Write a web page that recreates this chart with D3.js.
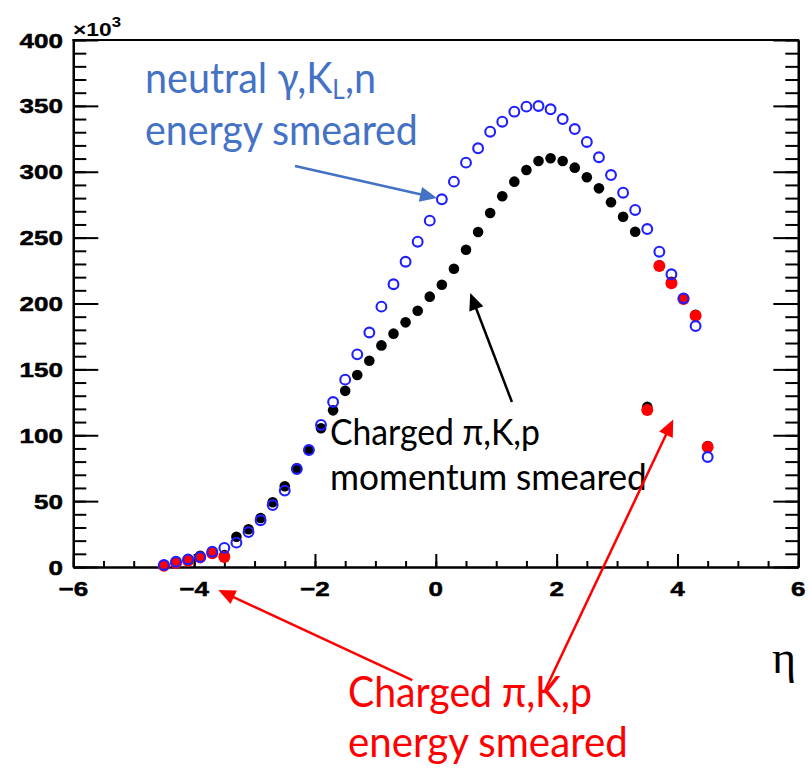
<!DOCTYPE html>
<html>
<head>
<meta charset="utf-8">
<script src="https://cdn.jsdelivr.net/npm/d3@7/dist/d3.min.js"></script>
<style>
  html, body { margin: 0; padding: 0; background: #fff; }
  svg { display: block; }
</style>
</head>
<body>
<svg id="chart" width="808" height="769"></svg>
<script>
// Pseudorapidity bin centres (bin width 0.2)
const etaCentres = [-4.5,-4.3,-4.1,-3.9,-3.7,-3.5,-3.3,-3.1,-2.9,-2.7,-2.5,-2.3,-2.1,-1.9,-1.7,-1.5,
  -1.3,-1.1,-0.9,-0.7,-0.5,-0.3,-0.1,0.1,0.3,0.5,0.7,0.9,1.1,1.3,1.5,1.7,1.9,2.1,2.3,2.5,2.7,2.9,
  3.1,3.3,3.5,3.7,3.9,4.1,4.3,4.5];

// Counts in units of 10^3
const neutralCounts = [1.5,4.0,5.8,7.5,11.6,14.5,18.5,26.5,35.5,47.0,58.0,74.4,88.8,107.8,125.2,142.2,
  161.4,178.0,197.6,214.6,231.7,246.9,262.9,279.1,292.5,306.9,317.8,330.4,338.0,345.6,349.4,349.9,347.4,
  340.0,332.4,322.6,311.0,297.5,284.1,271.0,256.5,239.3,222.2,203.9,182.9,83.5];

const chargedMomentumCounts = [1.5,3.5,5.5,8.5,11.0,9.0,23.0,28.6,37.2,49.2,61.3,74.9,88.8,105.3,118.9,133.7,
  145.7,156.5,168.2,177.1,185.7,194.5,205.2,214.2,226.4,240.8,254.3,268.7,281.4,292.5,301.3,308.2,310.2,
  308.2,303.1,295.8,287.4,276.8,265.9,254.5,121.5,229.0,216.5,204.0,191.5,91.8];

// Charged, energy smeared: only the forward/backward bins
const chargedEnergyEta = [-4.5,-4.3,-4.1,-3.9,-3.7,-3.5,3.5,3.7,3.9,4.1,4.3,4.5];
const chargedEnergyCounts = [0.9,3.0,4.8,7.3,10.4,7.6,119.2,228.5,215.3,203.4,190.7,91.1];

// Axis ticks
const xMajorTicks = [-6,-4,-2,0,2,4,6];
const xTickLabels = ["\u22126","\u22124","\u22122","0","2","4","6"];
const yMajorTicks = [0,50,100,150,200,250,300,350,400];
const yTickLabels = ["0","50","100","150","200","250","300","350","400"];

const svg = d3.select("#chart");
svg.append("rect").attr("width", 808).attr("height", 769).attr("fill", "#fff");

const x = d3.scaleLinear().domain([-6, 6]).range([73.3, 798.3]);
const y = d3.scaleLinear().domain([0, 400]).range([567, 40]);

const AX = "#000";
const axisG = svg.append("g");

function styleAxis(g) {
  g.selectAll("path.domain").attr("stroke", AX).attr("stroke-width", 2.2);
  g.selectAll(".tick line").attr("stroke", AX).attr("stroke-width", 2);
  g.selectAll(".tick text").remove();
}

// bottom axis: major + minor ticks pointing inwards
axisG.append("g").attr("transform", `translate(0,${y(0)})`)
  .call(d3.axisBottom(x).tickValues(d3.range(-6, 6.001, 0.5)).tickSize(-6).tickSizeOuter(0).tickFormat(""))
  .call(styleAxis);
axisG.append("g").attr("transform", `translate(0,${y(0)})`)
  .call(d3.axisBottom(x).tickValues(xMajorTicks).tickSize(-13).tickSizeOuter(0).tickFormat(""))
  .call(styleAxis);

// left axis
axisG.append("g").attr("transform", `translate(${x(-6)},0)`)
  .call(d3.axisLeft(y).tickValues(d3.range(0, 400.001, 10)).tickSize(-13).tickSizeOuter(0).tickFormat(""))
  .call(styleAxis);
axisG.append("g").attr("transform", `translate(${x(-6)},0)`)
  .call(d3.axisLeft(y).tickValues(yMajorTicks).tickSize(-25).tickSizeOuter(0).tickFormat(""))
  .call(styleAxis);

// right axis (mirrored ticks)
axisG.append("g").attr("transform", `translate(${x(6)},0)`)
  .call(d3.axisRight(y).tickValues(d3.range(0, 400.001, 10)).tickSize(-13).tickSizeOuter(0).tickFormat(""))
  .call(styleAxis);
axisG.append("g").attr("transform", `translate(${x(6)},0)`)
  .call(d3.axisRight(y).tickValues(yMajorTicks).tickSize(-25).tickSizeOuter(0).tickFormat(""))
  .call(styleAxis);

// top frame line
axisG.append("line")
  .attr("x1", x(-6) - 1).attr("x2", x(6) + 1).attr("y1", y(400)).attr("y2", y(400))
  .attr("stroke", AX).attr("stroke-width", 2.2);

// tick labels (wide, heavy Helvetica-style)
const labelFont = "'Liberation Sans', Arial, sans-serif";
const stretch = 1.24;
svg.append("g").selectAll("text").data(xMajorTicks).join("text")
  .attr("transform", d => `translate(${x(d)},596) scale(${stretch},1)`)
  .attr("text-anchor", "middle")
  .attr("font-family", labelFont).attr("font-weight", "bold").attr("font-size", 21)
  .attr("fill", "#000").attr("stroke", "#000").attr("stroke-width", 0.5)
  .text((d, i) => xTickLabels[i]);

svg.append("g").selectAll("text").data(yMajorTicks).join("text")
  .attr("transform", d => `translate(63,${y(d) + 7.6}) scale(${stretch},1)`)
  .attr("text-anchor", "end")
  .attr("font-family", labelFont).attr("font-weight", "bold").attr("font-size", 21)
  .attr("fill", "#000").attr("stroke", "#000").attr("stroke-width", 0.5)
  .text((d, i) => yTickLabels[i]);

// exponent label
const expo = svg.append("text")
  .attr("transform", `translate(73,36) scale(1.2,1)`)
  .attr("font-family", labelFont).attr("font-weight", "bold").attr("font-size", 19)
  .attr("fill", "#000");
expo.append("tspan").text("\u00d710");
expo.append("tspan").attr("font-size", 14).attr("dy", -9).text("3");

// axis title
svg.append("text")
  .attr("x", 784).attr("y", 673)
  .attr("text-anchor", "middle")
  .attr("font-family", "'Liberation Serif', 'DejaVu Serif', serif")
  .attr("font-size", 46)
  .attr("fill", "#000")
  .text("\u03b7");

// data markers: black, red, then open blue circles on top
const marks = svg.append("g");
marks.append("g").selectAll("circle").data(etaCentres).join("circle")
  .attr("cx", d => x(d))
  .attr("cy", (d, i) => y(chargedMomentumCounts[i]))
  .attr("r", 5.3)
  .attr("fill", "#000");

marks.append("g").selectAll("circle").data(chargedEnergyEta).join("circle")
  .attr("cx", d => x(d))
  .attr("cy", (d, i) => y(chargedEnergyCounts[i]))
  .attr("r", 6)
  .attr("fill", "#ff0000");

marks.append("g").selectAll("circle").data(etaCentres).join("circle")
  .attr("cx", d => x(d))
  .attr("cy", (d, i) => y(neutralCounts[i]))
  .attr("r", 4.9)
  .attr("fill", "none")
  .attr("stroke", "#1f1fff")
  .attr("stroke-width", 2.1);

// annotation text, horizontally fitted to a target width
const noteFont = "Lato, 'Open Sans', sans-serif";
function fitted(textSel, px, py, target) {
  const w = textSel.node().getComputedTextLength();
  textSel.attr("transform", `translate(${px},${py}) scale(${target / w},1)`);
}
function noteLine(str, px, py, size, color, target) {
  const t = svg.append("text")
    .attr("font-family", noteFont).attr("font-size", size).attr("fill", color)
    .text(str);
  fitted(t, px, py, target);
  return t;
}

const BLUE = "#4472c4", RED = "#ff0000";

// neutral label with subscript L
const n1 = svg.append("text")
  .attr("font-family", noteFont).attr("font-size", 42).attr("fill", BLUE);
n1.append("tspan").text("neutral \u03b3,K");
n1.append("tspan").attr("font-size", 26).attr("dy", 6).text("L");
n1.append("tspan").attr("dy", -6).text(",n");
fitted(n1, 145, 93, 231);
noteLine("energy smeared", 145, 145, 42, BLUE, 273);

noteLine("Charged \u03c0,K,p", 330, 445, 37, "#000", 210);
noteLine("momentum smeared", 330, 490, 37, "#000", 317);

noteLine("Charged \u03c0,K,p", 348, 707, 43, RED, 244);
noteLine("energy smeared", 348, 757, 43, RED, 280);

// arrows, given in data coordinates (eta, counts/10^3)
const arrows = [
  { from: [-2.33, 304.4], to: [0.02, 280.0], color: BLUE, w: 2.5 },
  { from: [1.26, 125.2], to: [0.57, 208.0], color: "#000", w: 2.5 },
  { from: [-0.39, -85.8], to: [-3.60, -17.5], color: RED, w: 2.5 },
  { from: [1.81, -93.4], to: [3.93, 112.0], color: RED, w: 2.5 }
];
const headLen = 17, headHalf = 7.5;
const arrowG = svg.append("g");
arrows.forEach(a => {
  const x0 = x(a.from[0]), y0 = y(a.from[1]);
  const x1 = x(a.to[0]), y1 = y(a.to[1]);
  const dx = x1 - x0, dy = y1 - y0, L = Math.hypot(dx, dy);
  const ux = dx / L, uy = dy / L;
  const bx = x1 - ux * headLen, by = y1 - uy * headLen;
  arrowG.append("line")
    .attr("x1", x0).attr("y1", y0).attr("x2", bx + ux * 2).attr("y2", by + uy * 2)
    .attr("stroke", a.color).attr("stroke-width", a.w);
  arrowG.append("path")
    .attr("d", `M${x1},${y1}L${bx - uy * headHalf},${by + ux * headHalf}L${bx + uy * headHalf},${by - ux * headHalf}Z`)
    .attr("fill", a.color);
});
</script>
</body>
</html>
